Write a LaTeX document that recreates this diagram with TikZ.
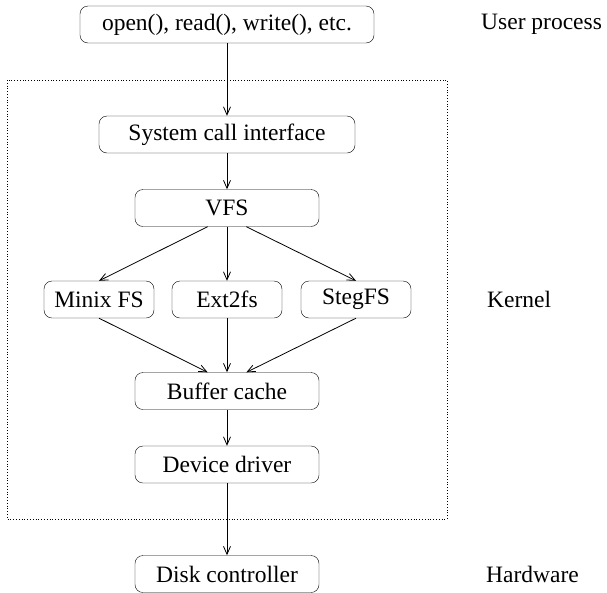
\documentclass[tikz,border=0pt]{standalone}
\usepackage{fontspec}
\setmainfont{Liberation Serif}
\usetikzlibrary{arrows.meta,calc}

\begin{document}
\begin{tikzpicture}[x=1pt,y=-1pt,
  box/.style={draw,rounded corners=8pt,inner sep=0pt,minimum height=37pt,font=\fontsize{23.5}{28}\selectfont},
  lbl/.style={anchor=west,inner sep=0pt,font=\fontsize{23.5}{28}\selectfont},
  flow/.style={-{Straight Barb[length=8pt,width=7pt]},line width=0.8pt}]
\useasboundingbox (0,0) rectangle (607,592);
% kernel area
\draw[dotted,line width=0.8pt] (7,80) rectangle (447,519);
% boxes
\node[box,minimum width=294pt] (calls) at (227,24.5) {open(), read(), write(), etc.};
\node[box,minimum width=256pt] (syscall) at (227,134.5) {System call interface};
\node[box,minimum width=184pt] (vfs) at (227,208) {VFS};
\node[box,minimum width=110pt] (minix) at (99,299.5) {Minix FS};
\node[box,minimum width=110pt] (ext) at (227,299.5) {Ext2fs};
\node[box,minimum width=110pt] (steg) at (356,299.5) {StegFS};
\node[box,minimum width=184pt] (buffer) at (227,391) {Buffer cache};
\node[box,minimum width=184pt] (driver) at (227,464.5) {Device driver};
\node[box,minimum width=184pt] (disk) at (227,574) {Disk controller};
% side labels
\node[lbl] (user) at (481,24.5) {User process};
\node[lbl] (kernel) at (487,299.5) {Kernel};
\node[lbl] (hw) at (486,574) {Hardware};
% arrows
\draw[flow] (calls) -- (syscall);
\draw[flow] (syscall) -- (vfs);
\draw[flow] ($(vfs.south)!0.21!(vfs.south west)$) -- (minix.north);
\draw[flow] (vfs) -- (ext);
\draw[flow] ($(vfs.south)!0.21!(vfs.south east)$) -- (steg.north);
\draw[flow] (minix.south) -- ($(buffer.north)!0.21!(buffer.north west)$);
\draw[flow] (ext) -- (buffer);
\draw[flow] (steg.south) -- ($(buffer.north)!0.21!(buffer.north east)$);
\draw[flow] (buffer) -- (driver);
\draw[flow] (driver) -- (disk);
\end{tikzpicture}
\end{document}
